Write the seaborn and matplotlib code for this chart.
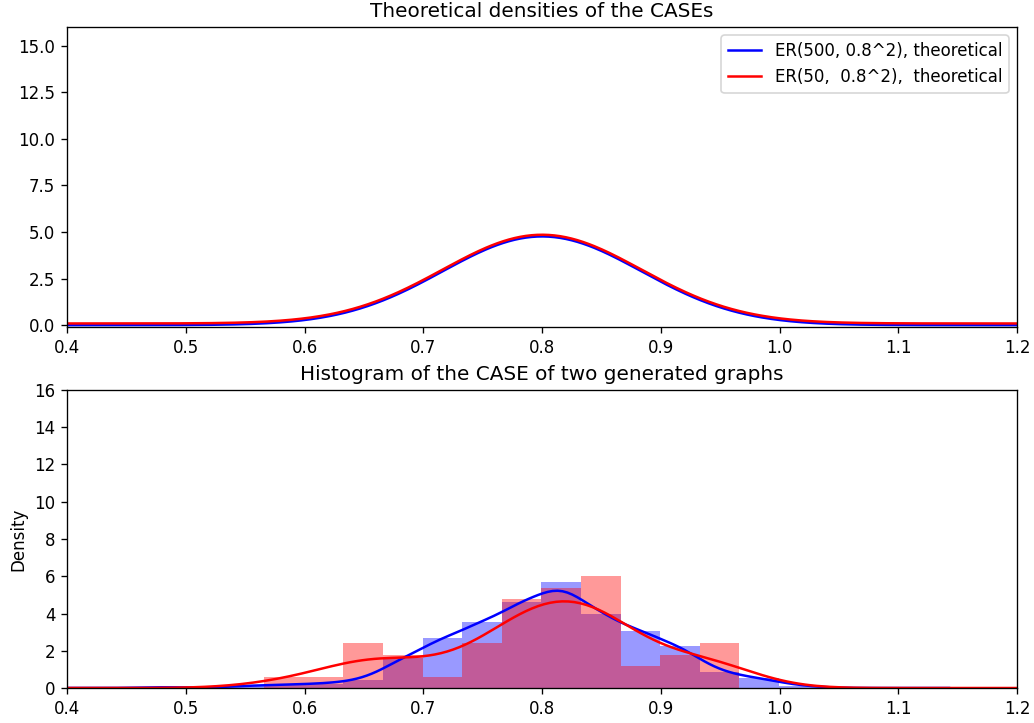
import matplotlib
matplotlib.use("Agg")
import matplotlib.pyplot as plt
import numpy as np
import pandas as pd
import seaborn as sns

# theoretical normal curves (mean, sd, small vertical offset)
theory_labels = ["ER(500, 0.8^2), theoretical", "ER(50,  0.8^2),  theoretical"]
theory_colors = ["blue", "red"]
theory_mean = [0.8, 0.8]
theory_sd = [0.0838, 0.0838]
theory_offset = [0.0, 0.09]

# histogram bins shared by both samples
bin_start = 0.4325
bin_width = 0.03336
n_bins = 18

# counts per bin
counts_500 = [0, 1, 0, 2, 3, 4, 7, 27, 45, 59, 77, 95, 66, 51, 38, 14, 9, 2]
counts_50 = [0, 0, 0, 0, 1, 1, 4, 3, 1, 4, 8, 9, 10, 2, 3, 4, 0, 0]
sample_sizes = [500, 50]
kde_adjust = [0.82, 0.92]

edges = bin_start + bin_width * np.arange(n_bins + 1)
centers = (edges[:-1] + edges[1:]) / 2

fig = plt.figure(figsize=(1034 / 120, 723 / 120), dpi=120)
ax1 = fig.add_axes([0.0648, 0.5477, 0.9188, 0.415])
ax2 = fig.add_axes([0.0648, 0.0484, 0.9188, 0.4122])

xs = np.linspace(0.4, 1.2, 500)
for lab, col, mu, sd, off in zip(theory_labels, theory_colors, theory_mean, theory_sd, theory_offset):
    ys = np.exp(-0.5 * ((xs - mu) / sd) ** 2) / (sd * np.sqrt(2 * np.pi)) + off
    sns.lineplot(x=xs, y=ys, ax=ax1, color=col, lw=1.5, label=lab)
ax1.set_xlim(0.4, 1.2)
ax1.set_ylim(-0.1, 16)
ax1.set_yticks([0, 2.5, 5, 7.5, 10, 12.5, 15])
ax1.set_title("Theoretical densities of the CASEs")
ax1.legend(loc="upper right")

for counts, n, adj, col in zip([counts_500, counts_50], sample_sizes, kde_adjust, ["blue", "red"]):
    df = pd.DataFrame({"value": centers, "count": counts})
    sns.histplot(data=df, x="value", weights="count", bins=list(edges), stat="density",
                 ax=ax2, color=col, alpha=0.4, linewidth=0)
    sns.kdeplot(data=df, x="value", weights="count", bw_method=n ** -0.2, bw_adjust=adj,
                ax=ax2, color=col, lw=1.5)

ax2.set_xlim(0.4, 1.2)
ax2.set_ylim(0, 16)
ax2.set_yticks(range(0, 17, 2))
ax2.set_xticks([0.4, 0.5, 0.6, 0.7, 0.8, 0.9, 1.0, 1.1, 1.2])
ax2.set_xlabel("")
ax2.set_ylabel("Density")
ax2.set_title("Histogram of the CASE of two generated graphs")

fig.savefig("out.png", dpi=120)
